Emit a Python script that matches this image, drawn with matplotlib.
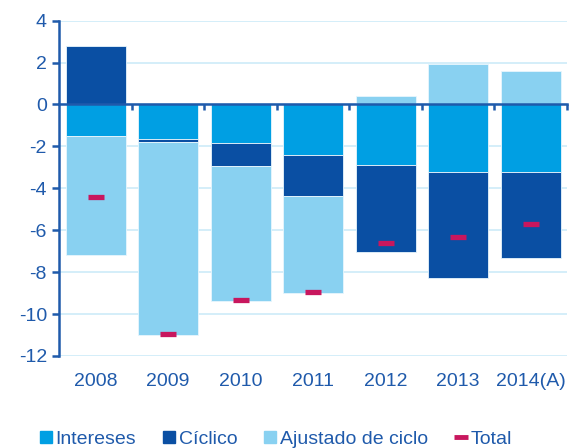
import numpy as np
import matplotlib.pyplot as plt
from matplotlib.lines import Line2D
from matplotlib import transforms

plt.rcParams['font.family'] = ['Liberation Sans', 'DejaVu Sans']
plt.rcParams['axes.unicode_minus'] = False

years = ['2008', '2009', '2010', '2011', '2012', '2013', '2014(A)']
intereses = [-1.5, -1.65, -1.84, -2.4, -2.88, -3.21, -3.23]
ciclico = [2.8, -0.15, -1.1, -1.97, -4.15, -5.06, -4.1]
ajustado = [-5.7, -9.2, -6.46, -4.61, 0.4, 1.93, 1.61]
total = [-4.4, -10.95, -9.33, -8.94, -6.61, -6.33, -5.71]

c_int = '#009fe3'
c_cic = '#0a4fa3'
c_aju = '#89d1f1'
c_tot = '#c8175e'
c_txt = '#1f5aab'
c_grid = '#cdebf8'

fig = plt.figure(figsize=(5.71, 4.48), dpi=100)
ax = fig.add_axes([0.104, 0.2054, 0.889, 0.7486])

x = np.arange(len(years))
w = 0.83

# stack positives up from 0 and negatives down from 0, in series order
pos = np.zeros(len(years))
neg = np.zeros(len(years))
for vals, col in [(intereses, c_int), (ciclico, c_cic), (ajustado, c_aju)]:
    vals = np.array(vals)
    base = np.where(vals >= 0, pos, neg)
    ax.bar(x, vals, w, bottom=base, color=col, edgecolor='#e8f6fd', linewidth=0.6, zorder=2)
    pos = np.where(vals >= 0, pos + vals, pos)
    neg = np.where(vals < 0, neg + vals, neg)

ax.plot(x, total, linestyle='none', marker='_', markersize=12, mew=3.8, color=c_tot, zorder=3)

ax.set_xlim(-0.5, len(years) - 0.5)
ax.set_ylim(-12, 4)
ax.set_yticks(np.arange(-12, 5, 2))
ax.grid(axis='y', color=c_grid, linewidth=1.2, zorder=0)
ax.set_axisbelow(True)

for s in ['top', 'right']:
    ax.spines[s].set_visible(False)
ax.spines['left'].set_color(c_txt)
ax.spines['left'].set_linewidth(1.8)
ax.spines['bottom'].set_position(('data', 0))
ax.spines['bottom'].set_color(c_txt)
ax.spines['bottom'].set_linewidth(1.8)
ax.spines['bottom'].set_zorder(4)

ax.tick_params(axis='y', colors=c_txt, labelsize=14, length=5, width=1.8, direction='out', pad=4)
# small ticks between the categories on the zero line
ax.set_xticks(np.arange(len(years)) + 0.5)
ax.set_xticklabels([])
ax.tick_params(axis='x', colors=c_txt, length=4, width=1.8, direction='out')

trans = transforms.blended_transform_factory(ax.transData, ax.transAxes)
for i, lab in enumerate(years):
    ax.text(x[i], -0.075, lab, transform=trans, ha='center', va='center', fontsize=14, color=c_txt)

handles = [
    Line2D([], [], linestyle='none', marker='s', markersize=8.5, color=c_int),
    Line2D([], [], linestyle='none', marker='s', markersize=8.5, color=c_cic),
    Line2D([], [], linestyle='none', marker='s', markersize=8.5, color=c_aju),
    Line2D([], [], linestyle='none', marker='_', markersize=10, mew=3.5, color=c_tot),
]
leg = fig.legend(handles, ['Intereses', 'Cíclico', 'Ajustado de ciclo', 'Total'], loc='center',
                 bbox_to_anchor=(0.4825, 0.02), ncol=4, frameon=False, fontsize=14,
                 handlelength=0.7, handletextpad=0.15, columnspacing=1.35, borderaxespad=0)
for t in leg.get_texts():
    t.set_color(c_txt)

fig.savefig('out.png', dpi=100)
